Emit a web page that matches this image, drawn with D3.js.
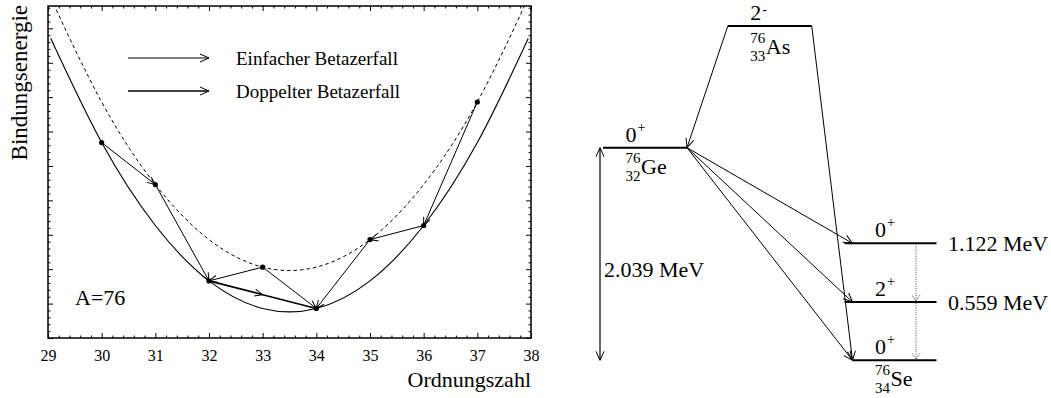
<!DOCTYPE html>
<html>
<head>
<meta charset="utf-8">
<script src="https://cdn.jsdelivr.net/npm/d3@7"></script>
<style>
  html, body { margin: 0; padding: 0; background: #fff; }
  svg { display: block; }
  text { font-family: "Liberation Serif", "Times New Roman", serif; fill: #000; }
</style>
</head>
<body>
<svg id="chart" width="1051" height="398"></svg>
<script>
// ---------- Mass parabola for isobars A = 76 ----------
const massNumber = 76;
const zTicks = [29, 30, 31, 32, 33, 34, 35, 36, 37, 38];
const energyTicks = [0, 1, 2, 3, 4, 5, 6, 7, 8, 9];

// even-even parabola (solid) and odd-odd parabola (dashed), binding energy in arbitrary units
const evenEvenZ = [29.05, 30, 31, 32, 33, 34, 35, 36, 37, 37.95];
const evenEvenE = [8.71, 5.68, 3.27, 1.66, 0.86, 0.86, 1.66, 3.27, 5.68, 8.71];
const oddOddZ = [29, 30, 31, 32, 33, 34, 35, 36, 37, 38];
const oddOddE = [10.06, 6.86, 4.46, 2.86, 2.06, 2.06, 2.86, 4.46, 6.86, 10.06];

// isobars marked on the parabolas
const nuclideZ = [30, 31, 32, 33, 34, 35, 36, 37];
const nuclideE = [5.68, 4.46, 1.66, 2.06, 0.86, 2.86, 3.27, 6.86];

// decays as [from Z, to Z]
const singleDecays = [[30, 31], [31, 32], [33, 32], [33, 34], [35, 34], [36, 35], [37, 36]];
const doubleDecays = [[32, 34]];

const legendLabels = ["Einfacher Betazerfall", "Doppelter Betazerfall"];

// ---------- Level scheme 76Ge -> 76Se ----------
const schemeZ = [32, 33, 34];
const schemeSymbols = ["Ge", "As", "Se"];
const levelZ = [32, 33, 34, 34, 34];
const levelEnergy = [2.039, 3.205, 0, 0.559, 1.122];      // MeV
const levelSpin = ["0", "2", "0", "2", "0"];
const levelParity = ["+", "-", "+", "+", "+"];
const excitedLabels = [[1.122, "1.122 MeV"], [0.559, "0.559 MeV"]];
const qValue = 2.039;
const qLabel = "2.039 MeV";
// beta transitions: [from level index, to level index]
const schemeBeta = [[1, 0], [1, 2], [0, 4], [0, 3], [0, 2]];
// gamma transitions (energies in MeV)
const schemeGamma = [[1.122, 0.559], [0.559, 0]];

const svg = d3.select("#chart");
const defs = svg.append("defs");

function chevron(id, len, half, color, dash) {
  const m = defs.append("marker")
    .attr("id", id)
    .attr("viewBox", `${-len - 1} ${-half - 1} ${len + 2} ${2 * half + 2}`)
    .attr("refX", 0).attr("refY", 0)
    .attr("markerUnits", "userSpaceOnUse")
    .attr("markerWidth", len + 2).attr("markerHeight", 2 * half + 2)
    .attr("orient", "auto-start-reverse");
  m.append("path")
    .attr("d", `M${-len},${-half}L0,0L${-len},${half}`)
    .attr("fill", "none").attr("stroke", color).attr("stroke-width", 1)
    .attr("stroke-dasharray", dash || null);
}
chevron("arr", 8, 3.5, "#000");
chevron("arrBig", 9, 4, "#000");
chevron("arrGamma", 6, 4, "#555", "1,1");

// ================= left panel =================
const left = { x0: 48, x1: 531, y0: 6, y1: 338 };
const x = d3.scaleLinear().domain([29, 38]).range([left.x0, left.x1]);
const y = d3.scaleLinear().domain([0, 9.65]).range([left.y1, left.y0]);

defs.append("clipPath").attr("id", "frameClip")
  .append("rect").attr("x", left.x0).attr("y", left.y0)
  .attr("width", left.x1 - left.x0).attr("height", left.y1 - left.y0);

const minorX = d3.range(29, 38.001, 0.2).filter(v => Math.abs(v - Math.round(v)) > 1e-6);
const minorY = d3.range(0, 9.65, 0.2).filter(v => Math.abs(v - Math.round(v)) > 1e-6);

function addAxis(axisFn, scale, tx, ty, values, size, labels) {
  const a = axisFn(scale).tickValues(values).tickSize(size)
    .tickFormat(labels ? d3.format("d") : () => "");
  const g = svg.append("g").attr("transform", `translate(${tx},${ty})`).call(a);
  g.select(".domain").remove();
  g.selectAll("line").attr("stroke", "#000").attr("stroke-width", 1);
  return g;
}
// bottom
const bx = addAxis(d3.axisBottom, x, 0, left.y1, zTicks, -5, true);
bx.selectAll("text").attr("y", 23).attr("dy", null)
  .style("font-size", "16px").style("font-family", "Liberation Serif");
addAxis(d3.axisBottom, x, 0, left.y1, minorX, -2.5, false);
// top
addAxis(d3.axisTop, x, 0, left.y0, zTicks, -5, false);
addAxis(d3.axisTop, x, 0, left.y0, minorX, -2.5, false);
// left
addAxis(d3.axisLeft, y, left.x0, 0, energyTicks, -5, false);
addAxis(d3.axisLeft, y, left.x0, 0, minorY, -2.5, false);
// right
addAxis(d3.axisRight, y, left.x1, 0, energyTicks, -5, false);
addAxis(d3.axisRight, y, left.x1, 0, minorY, -2.5, false);

svg.append("rect")
  .attr("x", left.x0).attr("y", left.y0)
  .attr("width", left.x1 - left.x0).attr("height", left.y1 - left.y0)
  .attr("fill", "none").attr("stroke", "#000").attr("stroke-width", 1.5);

const curve = d3.line().x(d => x(d[0])).y(d => y(d[1])).curve(d3.curveNatural);
const plot = svg.append("g").attr("clip-path", "url(#frameClip)");
plot.append("path")
  .attr("d", curve(evenEvenZ.map((z, i) => [z, evenEvenE[i]])))
  .attr("fill", "none").attr("stroke", "#000").attr("stroke-width", 1.1);
plot.append("path")
  .attr("d", curve(oddOddZ.map((z, i) => [z, oddOddE[i]])))
  .attr("fill", "none").attr("stroke", "#000").attr("stroke-width", 1)
  .attr("stroke-dasharray", "3.5,3");

const energyOf = z => nuclideE[nuclideZ.indexOf(z)];

singleDecays.forEach(([a, b]) => {
  plot.append("line")
    .attr("x1", x(a)).attr("y1", y(energyOf(a)))
    .attr("x2", x(b)).attr("y2", y(energyOf(b)))
    .attr("stroke", "#000").attr("stroke-width", 1)
    .attr("marker-end", "url(#arr)");
});
doubleDecays.forEach(([a, b]) => {
  const p0 = [x(a), y(energyOf(a))], p1 = [x(b), y(energyOf(b))];
  const mid = [(p0[0] + p1[0]) / 2, (p0[1] + p1[1]) / 2];
  plot.append("line")
    .attr("x1", p0[0]).attr("y1", p0[1]).attr("x2", mid[0]).attr("y2", mid[1])
    .attr("stroke", "#000").attr("stroke-width", 1.6)
    .attr("marker-end", "url(#arr)");
  plot.append("line")
    .attr("x1", mid[0]).attr("y1", mid[1]).attr("x2", p1[0]).attr("y2", p1[1])
    .attr("stroke", "#000").attr("stroke-width", 1.6);
});

plot.selectAll("circle.nuc")
  .data(nuclideZ.map((z, i) => [z, nuclideE[i]]))
  .join("circle").attr("class", "nuc")
  .attr("cx", d => x(d[0])).attr("cy", d => y(d[1])).attr("r", 2.6)
  .attr("fill", "#000");

// legend
legendLabels.forEach((lab, i) => {
  const ly = 58 + i * 33;
  svg.append("line")
    .attr("x1", 128).attr("y1", ly).attr("x2", 209).attr("y2", ly)
    .attr("stroke", "#000").attr("stroke-width", i === 0 ? 1 : 1.6)
    .attr("marker-end", "url(#arrBig)");
  svg.append("text").attr("x", 236).attr("y", ly + 6.5)
    .style("font-size", "19px").text(lab);
});

svg.append("text").attr("x", 75).attr("y", 305)
  .style("font-size", "22px").text(`A=${massNumber}`);
svg.append("text").attr("x", left.x1).attr("y", 387)
  .attr("text-anchor", "end").style("font-size", "22px").text("Ordnungszahl");
svg.append("text")
  .attr("transform", `translate(27,${left.y0 - 1}) rotate(-90)`)
  .attr("text-anchor", "end").style("font-size", "23px").text("Bindungsenergie");

// ================= right panel: level scheme =================
const xr = d3.scaleLinear().domain([32, 34]).range([645, 894.5]);
const yr = d3.scaleLinear().domain([0, qValue]).range([360.3, 147.7]);
const halfW = 42;

function levelLeft(i) {
  const extra = (levelZ[i] === 34 && levelEnergy[i] > 0) ? 8 : 0;
  return xr(levelZ[i]) - halfW - extra;
}
function levelRight(i) { return xr(levelZ[i]) + halfW; }

levelEnergy.forEach((e, i) => {
  svg.append("line")
    .attr("x1", levelLeft(i)).attr("x2", levelRight(i))
    .attr("y1", yr(e)).attr("y2", yr(e))
    .attr("stroke", "#000").attr("stroke-width", 2);
  const t = svg.append("text")
    .attr("x", xr(levelZ[i]) - 19.5).attr("y", yr(e) - 6)
    .style("font-size", "22px").text(levelSpin[i]);
  const minus = levelParity[i] === "-";
  t.append("tspan").attr("dy", minus ? -6 : -10).attr("dx", 1)
    .style("font-size", "14px").text(levelParity[i]);
});

// nuclide names below their level
schemeZ.forEach((z, k) => {
  const sym = schemeSymbols[k];
  const li = levelZ.findIndex((lz, i) => lz === z && (z !== 34 || levelEnergy[i] === 0));
  const bx0 = xr(z) - 19.5;
  const base = yr(levelEnergy[li]) + (z === 33 ? 28 : 26);
  svg.append("text").attr("x", bx0).attr("y", base - 11)
    .style("font-size", "15px").text(massNumber);
  svg.append("text").attr("x", bx0).attr("y", base + 7)
    .style("font-size", "15px").text(z);
  svg.append("text").attr("x", bx0 + 15.5).attr("y", base)
    .style("font-size", "22px").text(sym);
});

// beta transitions
schemeBeta.forEach(([a, b]) => {
  let x1, x2;
  if (levelZ[a] < levelZ[b]) { x1 = levelRight(a); x2 = xr(levelZ[b]) - halfW; }
  else { x1 = levelLeft(a); x2 = levelRight(b); }
  svg.append("line")
    .attr("x1", x1).attr("y1", yr(levelEnergy[a]))
    .attr("x2", x2).attr("y2", yr(levelEnergy[b]))
    .attr("stroke", "#000").attr("stroke-width", 1)
    .attr("marker-end", "url(#arrBig)");
});

// gamma transitions
const gx = xr(34) + 21.5;
schemeGamma.forEach(([e0, e1]) => {
  svg.append("line")
    .attr("x1", gx).attr("y1", yr(e0) + 1).attr("x2", gx).attr("y2", yr(e1) - 1)
    .attr("stroke", "#555").attr("stroke-width", 1)
    .attr("stroke-dasharray", "1,1.3")
    .attr("marker-end", "url(#arrGamma)");
});

excitedLabels.forEach(([e, lab]) => {
  svg.append("text").attr("x", 948).attr("y", yr(e) + 7.5)
    .style("font-size", "22px").text(lab);
});

// Q-value double arrow
const qx = xr(32) - 45;
svg.append("line")
  .attr("x1", qx).attr("y1", yr(qValue)).attr("x2", qx).attr("y2", yr(0))
  .attr("stroke", "#000").attr("stroke-width", 1.2)
  .attr("marker-start", "url(#arrBig)").attr("marker-end", "url(#arrBig)");
svg.append("text").attr("x", qx + 4).attr("y", 277)
  .style("font-size", "22px").text(qLabel);
</script>
</body>
</html>
